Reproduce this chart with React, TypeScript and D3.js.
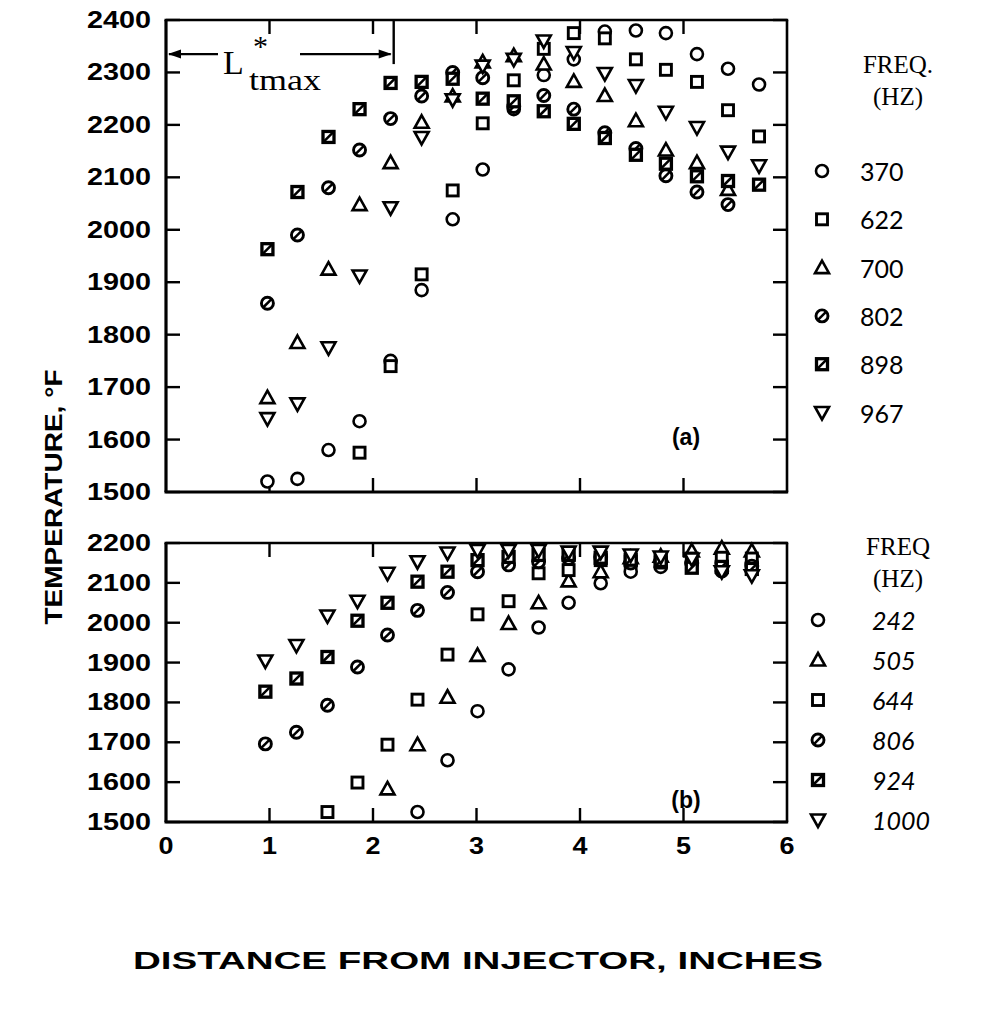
import React from "react";
import * as d3 from "d3";

// ---------- DATA ----------
const xTicks = [0, 1, 2, 3, 4, 5, 6];
const yTicksTop = [1500, 1600, 1700, 1800, 1900, 2000, 2100, 2200, 2300, 2400];
const yTicksBot = [1500, 1600, 1700, 1800, 1900, 2000, 2100, 2200];

// panel (a) measurement stations (inches)
const XA = [0.98, 1.27, 1.57, 1.87, 2.17, 2.47, 2.77, 3.06, 3.36, 3.65, 3.94, 4.24, 4.54, 4.83, 5.13, 5.43, 5.73];
const A370 = [1520, 1525, 1580, 1635, 1750, 1885, 2020, 2115, 2230, 2295, 2325, 2378, 2380, 2375, 2335, 2307, 2277];
const A622 = [null, null, null, 1575, 1740, 1915, 2075, 2203, 2285, 2345, 2375, 2365, 2325, 2305, 2282, 2228, 2178];
const A700 = [1680, 1785, 1925, 2048, 2128, 2205, 2255, 2320, 2332, 2316, 2283, 2256, 2208, 2152, 2128, 2077, null];
const A802 = [1860, 1990, 2080, 2152, 2212, 2255, 2300, 2290, 2235, 2256, 2230, 2185, 2155, 2103, 2072, 2048, null];
const A898 = [1963, 2072, 2177, 2230, 2280, 2282, 2288, 2250, 2245, 2226, 2202, 2175, 2143, 2126, 2102, 2093, 2086];
const A967 = [1640, 1668, 1775, 1912, 2042, 2176, 2248, 2312, 2325, 2360, 2338, 2298, 2275, 2224, 2195, 2148, 2122];

// panel (b) measurement stations (inches)
const XB = [0.96, 1.26, 1.56, 1.85, 2.14, 2.43, 2.72, 3.01, 3.31, 3.6, 3.89, 4.2, 4.49, 4.78, 5.08, 5.37, 5.66];
const B242 = [null, null, null, null, null, 1525, 1655, 1778, 1883, 1988, 2050, 2099, 2128, 2140, 2150, 2150, 2148];
const B505 = [null, null, null, null, 1583, 1694, 1813, 1918, 1998, 2050, 2105, 2128, 2163, 2167, 2180, 2187, 2180];
const B644 = [null, null, 1525, 1599, 1694, 1807, 1920, 2021, 2054, 2124, 2132, 2157, 2153, 2151, 2161, 2163, 2161];
const B806 = [1696, 1725, 1793, 1889, 1969, 2031, 2076, 2128, 2145, 2153, 2161, 2165, 2150, 2155, 2150, 2130, 2142];
const B924 = [1827, 1860, 1914, 2005, 2050, 2103, 2128, 2157, 2165, 2170, 2170, 2163, 2158, 2155, 2138, 2140, 2135];
const B1000 = [1904, 1943, 2017, 2054, 2124, 2153, 2175, 2181, 2181, 2181, 2177, 2177, 2170, 2165, 2160, 2128, 2118];

const LTMAX = 2.2;

const seriesA = [
  { label: "370", shape: "circle", values: A370 },
  { label: "622", shape: "square", values: A622 },
  { label: "700", shape: "triUp", values: A700 },
  { label: "802", shape: "circleSlash", values: A802 },
  { label: "898", shape: "squareSlash", values: A898 },
  { label: "967", shape: "triDown", values: A967 },
];
const seriesB = [
  { label: "242", shape: "circle", values: B242 },
  { label: "505", shape: "triUp", values: B505 },
  { label: "644", shape: "square", values: B644 },
  { label: "806", shape: "circleSlash", values: B806 },
  { label: "924", shape: "squareSlash", values: B924 },
  { label: "1000", shape: "triDown", values: B1000 },
];

// ---------- LAYOUT ----------
const W = 981, H = 1011;
const x = d3.scaleLinear().domain([0, 6]).range([166, 787]);
const yA = d3.scaleLinear().domain([1500, 2400]).range([492, 20]);
const yB = d3.scaleLinear().domain([1500, 2200]).range([822, 543]);

const SANS = "'Liberation Sans', Arial, sans-serif";
const SERIF = "'Liberation Serif', 'Times New Roman', serif";

function Marker({ shape, cx, cy }: { shape: string; cx: number; cy: number }) {
  const sw = 2.6;
  const r = 6;
  const h = 5.5;
  const common = { fill: "white", stroke: "black", strokeWidth: sw };
  switch (shape) {
    case "circle":
      return <circle cx={cx} cy={cy} r={r} {...common} />;
    case "square":
      return <rect x={cx - h} y={cy - h} width={2 * h} height={2 * h} {...common} strokeWidth={2.9} />;
    case "triUp":
      return <path d={`M${cx},${cy - 7}L${cx + 7},${cy + 5.5}L${cx - 7},${cy + 5.5}Z`} {...common} strokeLinejoin="miter" />;
    case "triDown":
      return <path d={`M${cx},${cy + 7}L${cx + 7},${cy - 5.5}L${cx - 7},${cy - 5.5}Z`} {...common} strokeLinejoin="miter" />;
    case "circleSlash":
      return (
        <g>
          <circle cx={cx} cy={cy} r={r} {...common} strokeWidth={2.9} />
          <line x1={cx - 4.3} y1={cy + 4.3} x2={cx + 4.3} y2={cy - 4.3} stroke="black" strokeWidth={2.5} />
        </g>
      );
    case "squareSlash":
      return (
        <g>
          <rect x={cx - h} y={cy - h} width={2 * h} height={2 * h} {...common} strokeWidth={3.3} />
          <line x1={cx - h} y1={cy + h} x2={cx + h} y2={cy - h} stroke="black" strokeWidth={2.5} />
        </g>
      );
    default:
      return null;
  }
}

function Panel({ y, yTicks, xs, series, tag, tagT }: any) {
  const [r0, r1] = y.range();
  const top = r1, bottom = r0;
  const left = x(0), right = x(6);
  const tl = 14;
  return (
    <g>
      {/* frame */}
      <line x1={left} y1={top} x2={left} y2={bottom} stroke="black" strokeWidth={3.2} />
      <line x1={left - 1.5} y1={bottom} x2={right + 1.2} y2={bottom} stroke="black" strokeWidth={3.2} />
      <line x1={right} y1={top} x2={right} y2={bottom} stroke="black" strokeWidth={2.6} />
      <line x1={left - 1.5} y1={top} x2={right + 1.2} y2={top} stroke="black" strokeWidth={2.6} />
      {/* y ticks */}
      {yTicks.map((t: number) => (
        <g key={"yt" + t}>
          <line x1={left} x2={left + tl} y1={y(t)} y2={y(t)} stroke="black" strokeWidth={2.4} />
          <line x1={right} x2={right - tl} y1={y(t)} y2={y(t)} stroke="black" strokeWidth={2.4} />
          <text
            x={151}
            y={y(t)}
            textAnchor="end"
            dominantBaseline="central"
            fontFamily={SANS}
            fontWeight="bold"
            fontSize={23}
            textLength={64}
            lengthAdjust="spacingAndGlyphs"
          >
            {t}
          </text>
        </g>
      ))}
      {/* x ticks */}
      {xTicks.slice(1, -1).map((t: number) => (
        <g key={"xt" + t}>
          <line x1={x(t)} x2={x(t)} y1={bottom} y2={bottom - tl} stroke="black" strokeWidth={2.4} />
          <line x1={x(t)} x2={x(t)} y1={top} y2={top + tl} stroke="black" strokeWidth={2.4} />
        </g>
      ))}
      {/* points */}
      {series.map((s: any) =>
        s.values.map((v: number | null, i: number) =>
          v == null ? null : <Marker key={s.label + "-" + i} shape={s.shape} cx={x(xs[i])} cy={y(v)} />
        )
      )}
      <text x={686} y={y(tagT)} textAnchor="middle" dominantBaseline="central" fontFamily={SANS} fontWeight="bold" fontSize={23}>
        {tag}
      </text>
    </g>
  );
}

function Legend({ title, items, x0, yTitle, yItems, step, numFont, italic }: any) {
  return (
    <g>
      {title.map((t: string, i: number) => (
        <text key={t} x={898} y={yTitle + i * 32} textAnchor="middle" dominantBaseline="central" fontFamily={SERIF} fontSize={25}>
          {t}
        </text>
      ))}
      {items.map((s: any, i: number) => (
        <g key={s.label}>
          <Marker shape={s.shape} cx={x0} cy={yItems + i * step} />
          <text
            x={x0 + 38 + (italic ? 16 : 0)}
            y={yItems + i * step}
            dominantBaseline="central"
            fontFamily={numFont}
            fontStyle={italic ? "italic" : "normal"}
            fontSize={25}
          >
            {s.label}
          </text>
        </g>
      ))}
    </g>
  );
}

export default function App() {
  const ya = yA(2335);
  const xl = x(LTMAX);
  return (
    <svg width={W} height={H} style={{ position: "absolute", left: 0, top: 0, background: "white" }}>
      <rect x={0} y={0} width={W} height={H} fill="white" />
      <Panel y={yA} yTicks={yTicksTop} xs={XA} series={seriesA} tag="(a)" tagT={1605} />
      <Panel y={yB} yTicks={yTicksBot} xs={XB} series={seriesB} tag="(b)" tagT={1555} />

      {/* L*tmax annotation */}
      <line x1={xl} x2={xl} y1={yA(2400)} y2={ya + 10} stroke="black" strokeWidth={2.4} />
      <line x1={x(0) + 3} x2={218} y1={ya} y2={ya} stroke="black" strokeWidth={2.2} />
      <path d={`M${x(0) + 2},${ya}l13,-4.5l0,9z`} fill="black" />
      <line x1={300} x2={xl - 3} y1={ya} y2={ya} stroke="black" strokeWidth={2.2} />
      <path d={`M${xl - 2},${ya}l-13,-4.5l0,9z`} fill="black" />
      <text x={223} y={74} fontFamily={SERIF} fontSize={34}>L</text>
      <text x={253} y={56} fontFamily={SERIF} fontSize={30}>*</text>
      <text x={249} y={90} fontFamily={SERIF} fontSize={30} textLength={72} lengthAdjust="spacingAndGlyphs">tmax</text>

      {/* x tick labels */}
      {xTicks.map((t) => (
        <text key={"xl" + t} x={x(t)} y={845} textAnchor="middle" dominantBaseline="central" fontFamily={SANS} fontWeight="bold" fontSize={24} textLength={15} lengthAdjust="spacingAndGlyphs">
          {t}
        </text>
      ))}

      {/* axis titles */}
      <text x={478} y={960} textAnchor="middle" dominantBaseline="central" fontFamily={SANS} fontWeight="bold" fontSize={24} textLength={690} lengthAdjust="spacingAndGlyphs">
        DISTANCE FROM INJECTOR, INCHES
      </text>
      <text transform="translate(54,497) rotate(-90)" textAnchor="middle" dominantBaseline="central" fontFamily={SANS} fontWeight="bold" fontSize={23} textLength={255} lengthAdjust="spacingAndGlyphs">
        TEMPERATURE, °F
      </text>

      <Legend title={["FREQ.", "(HZ)"]} items={seriesA} x0={822} yTitle={64} yItems={171} step={48.3} numFont="Lato, 'Open Sans', sans-serif" italic={false} />
      <Legend title={["FREQ", "(HZ)"]} items={seriesB} x0={818} yTitle={546} yItems={620} step={40} numFont="Lato, 'Open Sans', sans-serif" italic={true} />
    </svg>
  );
}
